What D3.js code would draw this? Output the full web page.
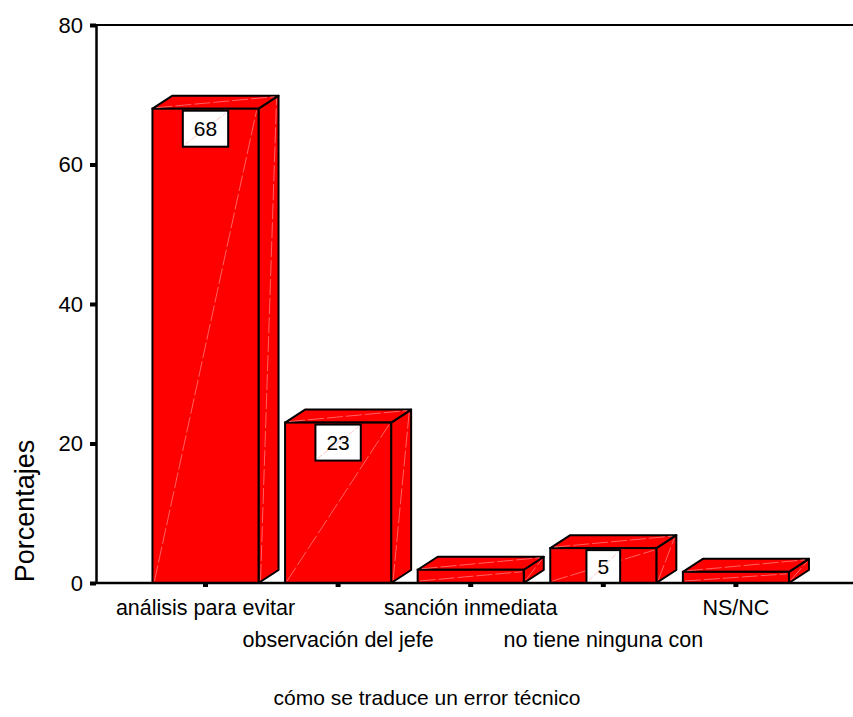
<!DOCTYPE html>
<html>
<head>
<meta charset="utf-8">
<script src="https://cdn.jsdelivr.net/npm/d3@7"></script>
<style>
  html, body { margin: 0; padding: 0; background: #fff; }
  svg { display: block; font-family: "Liberation Sans", Arial, sans-serif; }
</style>
</head>
<body>
<svg id="chart" width="853" height="717"></svg>
<script>
// Categories and percentages
const categories = [
  "análisis para evitar",
  "observación del jefe",
  "sanción inmediata",
  "no tiene ninguna con",
  "NS/NC"
];
const percentages = [68, 23, 1.9, 5, 1.6];
const labelled = [true, true, false, true, false];
const yTicks = [0, 20, 40, 60, 80];
const xTitle = "cómo se traduce un error técnico";
const yTitle = "Porcentajes";

const svg = d3.select("#chart");
const W = 853;
const plotLeft = 96, plotTop = 25, plotBottom = 583;
const depthX = 20, depthY = 13;

const y = d3.scaleLinear().domain([0, 80]).range([plotBottom, plotTop]);
const x = d3.scaleBand().domain(categories)
  .range([139.2, 802.2]).paddingInner(0.2).paddingOuter(0.1);

const data = categories.map((c, i) => ({ c, v: percentages[i], lab: labelled[i] }));

// frame line along the top (runs to the edge)
svg.append("line").attr("x1", plotLeft).attr("x2", W).attr("y1", plotTop).attr("y2", plotTop)
  .attr("stroke", "#000").attr("stroke-width", 2);

// bars as 3D boxes
const bars = svg.append("g");
data.forEach(d => {
  const x0 = x(d.c), x1 = x0 + x.bandwidth();
  const yt = y(d.v), yb = y(0);
  const g = bars.append("g");
  const side = [[x1, yb], [x1 + depthX, yb - depthY], [x1 + depthX, yt - depthY], [x1, yt]];
  const topF = [[x0, yt], [x0 + depthX, yt - depthY], [x1 + depthX, yt - depthY], [x1, yt]];
  const line = d3.line();
  g.append("path").attr("d", line(side) + "Z").attr("fill", "#ff0000")
    .attr("stroke", "#000").attr("stroke-width", 2).attr("stroke-linejoin", "round");
  g.append("path").attr("d", line(topF) + "Z").attr("fill", "#ff0000")
    .attr("stroke", "#000").attr("stroke-width", 2).attr("stroke-linejoin", "round");
  g.append("rect").attr("x", x0).attr("y", yt).attr("width", x1 - x0).attr("height", yb - yt)
    .attr("fill", "#ff0000").attr("stroke", "#000").attr("stroke-width", 2);
  // faint shading seams
  const seam = (a, b) => g.append("line")
    .attr("x1", a[0]).attr("y1", a[1]).attr("x2", b[0]).attr("y2", b[1])
    .attr("stroke", "#ff8c8c").attr("stroke-width", 0.7).attr("stroke-dasharray", "16,3");
  seam([x0 + 2, yb - 2], [x1 - 2, yt + 2]);
  seam([x1 + 2, yb - 3], [x1 + depthX - 2, yt - depthY + 3]);
  seam([x0 + 4, yt - 1], [x1 + depthX - 4, yt - depthY + 1]);
});

// value labels
data.filter(d => d.lab).forEach(d => {
  const cx = x(d.c) + x.bandwidth() / 2;
  const bt = y(d.v) + 2;
  const h = Math.min(36, y(0) - bt);
  const g = svg.append("g");
  const t = g.append("text").attr("x", cx).attr("y", bt + h / 2)
    .attr("dy", "0.36em").attr("text-anchor", "middle")
    .attr("font-size", 21).attr("fill", "#000").text(d3.format(".0f")(d.v));
  const tw = t.node().getComputedTextLength();
  const bw = tw + 22;
  g.insert("rect", "text").attr("x", cx - bw / 2).attr("y", bt).attr("width", bw).attr("height", h)
    .attr("fill", "#fff").attr("stroke", "#000").attr("stroke-width", 2);
  g.insert("line", "text").attr("x1", cx - bw / 2 + 2).attr("y1", bt + h - 2)
    .attr("x2", cx + bw / 2 - 2).attr("y2", bt + 2)
    .attr("stroke", "#ffb0b0").attr("stroke-width", 0.7).attr("stroke-dasharray", "6,2");
});

// y axis
const yAxis = svg.append("g").attr("transform", `translate(${plotLeft},0)`)
  .call(d3.axisLeft(y).tickValues(yTicks).tickSize(6).tickSizeOuter(0).tickPadding(7));
yAxis.select(".domain").attr("stroke", "#000").attr("stroke-width", 2.5);
yAxis.selectAll(".tick line").attr("stroke", "#000").attr("stroke-width", 4);
yAxis.selectAll(".tick text").attr("font-size", 22).attr("font-family", "Liberation Sans, Arial, sans-serif")
  .attr("fill", "#000");

// x axis baseline (runs to the edge)
svg.append("line").attr("x1", plotLeft).attr("x2", W).attr("y1", plotBottom).attr("y2", plotBottom)
  .attr("stroke", "#000").attr("stroke-width", 2.5);
const xAxis = svg.append("g").attr("transform", `translate(0,${plotBottom})`)
  .call(d3.axisBottom(x).tickSize(4).tickSizeOuter(0));
xAxis.select(".domain").remove();
xAxis.selectAll(".tick line").attr("stroke", "#000").attr("stroke-width", 5);
xAxis.selectAll(".tick text")
  .attr("font-size", 21.5).attr("font-family", "Liberation Sans, Arial, sans-serif").attr("fill", "#000")
  .attr("dy", null)
  .attr("y", (d, i) => i % 2 === 0 ? 32 : 64);

// axis titles
svg.append("text").attr("x", 427).attr("y", 705).attr("text-anchor", "middle")
  .attr("font-size", 21).attr("fill", "#000").text(xTitle);
svg.append("text").attr("transform", `translate(34,511) rotate(-90)`)
  .attr("text-anchor", "middle").attr("font-size", 27).attr("fill", "#000").text(yTitle);
</script>
</body>
</html>
